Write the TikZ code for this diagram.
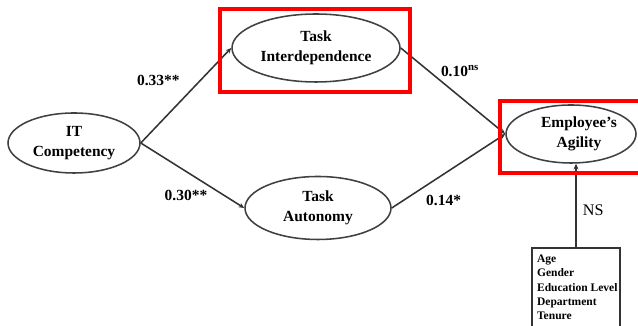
\documentclass[tikz,border=0pt]{standalone}
\usepackage{fontspec}
\setmainfont{Liberation Serif}
\usetikzlibrary{arrows.meta,positioning,shapes.geometric}

\tikzset{
  construct/.style={draw=black!75, line width=1.1pt, ellipse, inner sep=0pt, align=center,
    font=\fontsize{11}{14}\selectfont\bfseries},
  path/.style={draw=black!80, line width=1.1pt, -{Stealth[length=4pt,width=3.5pt]}},
  coef/.style={font=\fontsize{11}{13}\selectfont\bfseries},
  redbox/.style={draw=red, line width=2.2pt},
}

\begin{document}
\begin{tikzpicture}
  \clip (0,0) rectangle (15.95,8.15);
  % constructs
  \node[construct, minimum width=3.3cm, minimum height=1.5cm] (itc) at (1.85,4.575) {IT\\Competency};
  \node[construct, minimum width=4.2cm, minimum height=1.7cm] (tid) at (7.9,6.95) {Task\\Interdependence};
  \node[construct, minimum width=3.65cm, minimum height=1.575cm] (tau) at (7.95,2.95) {Task\\Autonomy};
  \node[construct, minimum width=3.25cm, minimum height=1.45cm] (eag) at (14.275,4.8) {\hspace{0.4cm}Employee's\\\hspace{0.4cm}Agility};

  % control variables
  \node[anchor=north west, align=left, inner sep=0pt, font=\fontsize{8.2}{10.1}\selectfont\bfseries]
    (ctrl) at (13.42,1.78) {Age\\Gender\\Education Level\\Department\\Tenure};
  \draw[draw=black!80, line width=1.1pt] (13.3,-0.2) -- (13.3,1.95) -- (15.5,1.95) -- (15.5,-0.2);
  \coordinate (ctrl-top) at (14.4,1.95);

  % paths
  \draw[path] (itc.east) -- (tid.west);
  \draw[path] (itc.east) -- (tau.west);
  \draw[path] (tid.east) -- (eag.west);
  \draw[path] (tau.east) -- (eag.west);
  \draw[path] (ctrl-top) -- (ctrl-top |- eag.south) node[pos=0.45, right=1pt, font=\fontsize{11.5}{13}\selectfont] (ns) {NS};

  % coefficients
  \node[coef] (c1) at (3.96,6.15) {0.33**};
  \node[coef] (c2) at (4.65,3.275) {0.30**};
  \node[coef] (c3) at (11.5,6.375) {0.10\textsuperscript{ns}};
  \node[coef] (c4) at (11.09,3.15) {0.14*};

  % highlights
  \draw[redbox] (5.5,5.85) rectangle (10.25,7.925);
  \draw[redbox] (12.5,3.825) rectangle (16.3,5.625);
\end{tikzpicture}
\end{document}
